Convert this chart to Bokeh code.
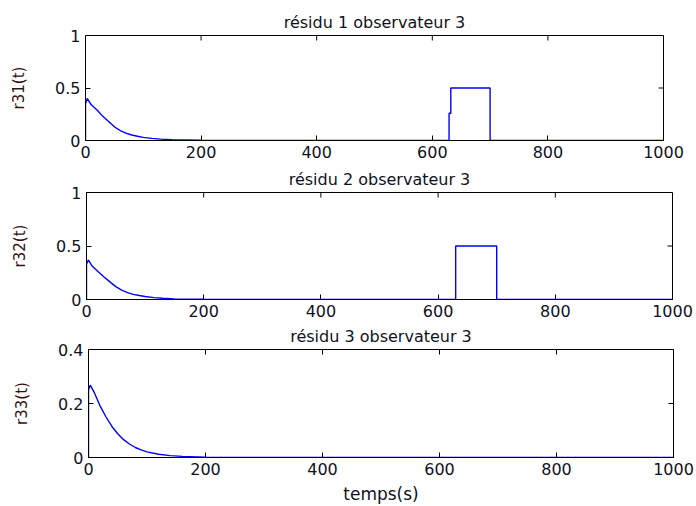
import math
from bokeh.plotting import figure
from bokeh.layouts import column, row
from bokeh.models import FixedTicker, Range1d
from bokeh.embed import file_html
from bokeh.resources import INLINE

# ---- data ----
t1 = [0, 0, 3, 10, 20, 30, 40, 50, 60, 70, 80, 90, 100, 115, 130, 150, 200, 250,
      629, 629, 632, 632, 700, 700, 1000]
r31 = [0, 0.35, 0.40, 0.34, 0.29, 0.23, 0.18, 0.13, 0.095, 0.07, 0.052, 0.04, 0.03,
       0.02, 0.013, 0.007, 0.002, 0.0,
       0.0, 0.26, 0.26, 0.5, 0.5, 0.0, 0.0]

t2 = [0, 0, 3, 10, 20, 30, 40, 50, 60, 70, 80, 90, 100, 115, 130, 150, 200, 250,
      630, 630, 700, 700, 1000]
r32 = [0, 0.33, 0.37, 0.31, 0.26, 0.21, 0.165, 0.12, 0.088, 0.065, 0.048, 0.037, 0.028,
       0.018, 0.012, 0.006, 0.002, 0.0,
       0.0, 0.5, 0.5, 0.0, 0.0]

t3 = [0, 0, 3, 10, 20, 30, 40, 50, 60, 70, 80, 90, 100, 120, 140, 160, 200, 250, 1000]
r33 = [0, 0.25, 0.268, 0.24, 0.19, 0.15, 0.115, 0.088, 0.066, 0.05, 0.037, 0.028, 0.021,
       0.012, 0.007, 0.004, 0.001, 0.0, 0.0]

x_ticks = [0, 200, 400, 600, 800, 1000]
y_ticks_12 = [0, 0.5, 1]
y_ticks_3 = [0, 0.2, 0.4]

titles = ["résidu 1 observateur 3", "résidu 2 observateur 3", "résidu 3 observateur 3"]
ylabels = ["r31(t)", "r32(t)", "r33(t)"]
xlabel = "temps(s)"

FONT = "DejaVu Sans"


def style_axis(ax):
    ax.major_tick_in = 5
    ax.major_tick_out = 0
    ax.minor_tick_line_color = None
    ax.axis_line_color = "black"
    ax.major_tick_line_color = "black"
    ax.major_label_text_font = FONT
    ax.major_label_text_color = "#111122"
    ax.major_label_text_font_size = "16px"
    ax.major_label_standoff = 5


def make(t, r, title, ylabel, yticks, ymax, height, top, bottom, left, right, xlab=None):
    p = figure(width=696, height=height, output_backend="svg", toolbar_location=None,
               x_range=Range1d(0, 1000), y_range=Range1d(0, ymax),
               min_border_top=top, min_border_bottom=bottom,
               min_border_left=left, min_border_right=right)
    p.title.text = title
    p.title.align = "center"
    p.title.text_font = FONT
    p.title.text_font_size = "16px"
    p.title.text_font_style = "normal"
    p.title.text_color = "#111122"
    p.title.standoff = 8
    p.grid.visible = False
    p.outline_line_color = "black"
    p.background_fill_color = "white"
    p.border_fill_color = "white"
    p.xaxis.ticker = FixedTicker(ticks=x_ticks)
    p.yaxis.ticker = FixedTicker(ticks=yticks)
    style_axis(p.xaxis[0])
    style_axis(p.yaxis[0])
    p.yaxis.axis_label = ylabel
    p.yaxis.axis_label_text_font = FONT
    p.yaxis.axis_label_text_font_size = "15px"
    p.yaxis.axis_label_text_font_style = "normal"
    p.yaxis.axis_label_text_color = "#331111"
    p.yaxis.axis_label_standoff = 24
    if xlab:
        p.xaxis.axis_label = xlab
        p.xaxis.axis_label_text_font = FONT
        p.xaxis.axis_label_text_font_size = "17px"
        p.xaxis.axis_label_text_font_style = "normal"
        p.xaxis.axis_label_text_color = "#111122"
        p.xaxis.axis_label_standoff = 6
    # mirrored inward ticks on the top and right edges (box on)
    p.ray(x=x_ticks, y=[ymax] * len(x_ticks), length=5, length_units="screen",
          angle=-math.pi / 2, line_color="black", line_width=1)
    p.ray(x=[1000] * len(yticks), y=yticks, length=5, length_units="screen",
          angle=math.pi, line_color="black", line_width=1)
    p.line(t, r, line_color="#0000ff", line_width=1.4)
    return p


p1 = make(t1, r31, titles[0], ylabels[0], y_ticks_12, 1, 163, 35, 23, 85, 33)
p2 = make(t2, r32, titles[1], ylabels[1], y_ticks_12, 1, 157, 29, 21, 86, 24)
p3 = make(t3, r33, titles[2], ylabels[2], y_ticks_3, 0.4, 186, 27, 48, 88, 23, xlab=xlabel)

layout = column(row(p1), row(p2), row(p3), spacing=0)
open("out.html", "w").write(file_html(layout, INLINE))
